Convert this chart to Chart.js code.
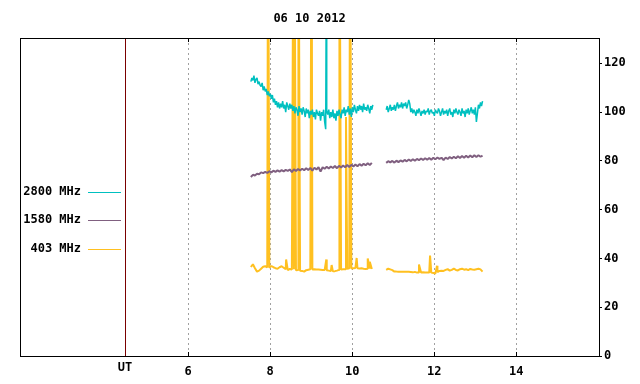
<!DOCTYPE html>
<html>
<head>
<meta charset="utf-8">
<script src="https://cdn.jsdelivr.net/npm/chart.js@4"></script>
<style>
html,body{margin:0;padding:0;background:#fff;}
#wrap{width:640px;height:384px;}
</style>
</head>
<body>
<div id="wrap"><canvas id="c" width="640" height="384"></canvas></div>
<script>
// ---- data ----
const title = '06 10 2012';
const seriesLabels = ['2800 MHz', '1580 MHz', '403 MHz'];
const xTicks = [6, 8, 10, 12, 14];
const yTicks = [0, 20, 40, 60, 80, 100, 120];
const utTime = 4.46;
const segment1Start = 7.53;    // UT hours
const segment2Start = 10.83;
const gapTime = 10.66;

// 2800 MHz, sampled every 0.025 h
const cyanStep = 0.025;
const cyan1 = [112.5,114,113,115,112,113.5,114,111.5,112.5,111,
  110.5,112,109,110.5,108.5,109.5,107,108.5,106.5,107.5,
  105.5,107,104,105.5,103,104.5,102,104,101.5,103.5,
  102,104.5,101.5,103,100,104,102.5,101,103.5,101.5,
  103,100.5,102.5,99.5,102,101,98.5,102.5,100,101.5,
  99,102,100.5,98,101.5,99.5,101,97.5,100.5,99,
  101,98,100,97,101,99.5,98.5,100.5,96.5,100,
  98.5,101,96,93,100.5,99,101,97.5,100,98,
  101,97.5,99.5,96.5,100.5,98.5,101,99,97.5,101,
  99.5,102,98.5,101,100,102.5,99,101.5,98,102,
  100,103,101,99.5,102.5,100.5,103,101,102.5,100,
  103.5,101,102,100.5,103,101.5,99.5,102.5,101,103];
const cyan2 = [101,102.5,100,101.5,103,100.5,102,101,103,100.5,
  102.5,104,101.5,103,102,104,101.5,103.5,102.5,104,
  101.5,103,105,103.5,100,101.5,99.5,101,100,98.5,
  101,99.5,101.5,100,98.5,100.5,99.5,101,99,100.5,
  100,101.5,99,100.5,101,99.5,100,98.5,101,100,
  99.5,101.5,100.5,98.5,100,101.5,99,100.5,99.5,101,
  98.5,100.5,101.5,99,100,98,101,99.5,101.5,100,
  99,101,100,98.5,101.5,99.5,100.5,98,101,99.5,
  101.5,99,100.5,102,99.5,101,99,102,96,99.5,
  103,101.5,104,102.5,104.5];
const cyanSpikeTimes = [9.366];
const cyanSpikeValues = [140];

// 1580 MHz and 403 MHz, sampled every 0.05 h
const slowStep = 0.05;
const purple1 = [73.4,74.3,74.0,74.7,74.5,75.3,75.0,75.5,75.1,75.8,
  75.3,76.0,75.5,76.1,75.6,76.2,75.7,76.3,75.9,76.5,
  75.4,76.6,75.9,76.7,76.1,76.8,76.2,77.0,76.3,77.1,
  76.0,77.2,76.5,77.4,75.6,77.4,76.8,77.6,76.9,77.7,
  77.1,77.9,77.0,78.0,77.3,78.1,77.4,78.3,77.5,78.4,
  77.7,78.5,77.8,78.7,78.0,78.8,78.2,79.0,78.3,79.2];
const purple2 = [79.2,79.9,79.4,80.0,79.3,80.1,79.5,80.2,79.7,80.4,
  79.8,80.6,80.0,80.7,80.1,80.8,80.3,81.0,80.4,81.1,
  80.5,81.2,80.5,81.3,80.7,81.4,80.8,81.3,80.3,81.4,
  80.8,81.6,81.0,81.7,81.1,81.9,81.2,82.0,81.3,82.1,
  81.4,82.2,81.5,82.3,81.6,82.3,81.7,82.2];

const orange1 = [36.5,37.6,36.0,34.6,35.0,35.8,36.6,36.8,36.4,36.2,
  36.9,36.4,36.0,35.8,36.4,36.8,36.2,35.6,35.2,35.7,
  35.5,35.6,35.2,35.3,35.0,34.9,34.6,35.2,35.4,35.6,
  35.5,35.6,35.5,35.5,35.4,35.3,35.3,35.2,35.0,34.8,
  34.7,34.8,35.0,35.3,35.5,35.6,35.6,35.8,36.0,35.9,
  36.0,36.1,36.0,35.9,36.0,35.8,35.7,35.8,35.9,35.7];
const orange2 = [35.3,35.8,35.5,35.2,34.6,34.6,34.5,34.5,34.6,34.5,
  34.5,34.5,34.4,34.3,34.5,34.2,34.2,34.2,34.3,34.2,
  34.2,34.2,34.2,34.0,33.8,34.4,34.9,35.0,34.9,35.3,
  35.6,35.0,35.3,35.8,35.3,35.1,35.6,35.8,35.4,35.6,
  35.2,35.7,35.5,35.4,35.6,35.8,35.5,34.6];
const orangeSpikeTimes = [7.95,8.39,8.57,8.59,8.69,9.01,9.37,9.50,9.69,9.85,9.95,10.11,10.38,10.43,11.63,11.90,12.07];
const orangeSpikeValues = [200,39.6,200,200,200,200,39.6,37.3,200,98,200,40.2,40.0,38.6,37.5,41.2,37.0];

const colors = ['#00c0c0', '#806080', '#ffc020'];
const lineWidths = [1.5, 2, 2];

// ---- build series ----
function buildSeries(seg1, seg2, step, spikeT, spikeV) {
  const pts = [];
  seg1.forEach((v, i) => pts.push({x: +(segment1Start + i * step).toFixed(3), y: v}));
  pts.push({x: gapTime, y: null});
  seg2.forEach((v, i) => pts.push({x: +(segment2Start + i * step).toFixed(3), y: v}));
  spikeT.forEach((t, i) => pts.push({x: t, y: spikeV[i]}));
  pts.sort((a, b) => a.x - b.x);
  return pts;
}

const FONT = 'bold 12px "DejaVu Sans Mono"';

const decor = {
  id: 'decor',
  beforeDatasetsDraw(chart) {
    const {ctx, chartArea: a, scales: {x}} = chart;
    ctx.save();
    ctx.strokeStyle = '#a0a0a0';
    ctx.lineWidth = 1;
    ctx.setLineDash([2, 3]);
    xTicks.forEach(v => {
      const px = Math.round(x.getPixelForValue(v)) + 0.5;
      ctx.beginPath(); ctx.moveTo(px, a.top); ctx.lineTo(px, a.bottom); ctx.stroke();
    });
    ctx.setLineDash([]);
    const ux = Math.round(x.getPixelForValue(utTime)) + 0.5;
    ctx.strokeStyle = '#7a0000';
    ctx.beginPath(); ctx.moveTo(ux, a.top); ctx.lineTo(ux, a.bottom); ctx.stroke();
    ctx.restore();
  },
  afterDraw(chart) {
    const {ctx, chartArea: a, scales: {x}} = chart;
    ctx.save();
    ctx.strokeStyle = '#000';
    ctx.lineWidth = 1;
    ctx.strokeRect(Math.round(a.left) + 0.5, Math.round(a.top) + 0.5,
                   Math.round(a.right - a.left), Math.round(a.bottom - a.top));
    xTicks.forEach(v => {
      const px = Math.round(x.getPixelForValue(v)) + 0.5;
      ctx.beginPath();
      ctx.moveTo(px, a.bottom); ctx.lineTo(px, a.bottom - 4);
      ctx.moveTo(px, a.top); ctx.lineTo(px, a.top + 4);
      ctx.stroke();
    });
    ctx.fillStyle = '#000';
    ctx.font = FONT;
    ctx.textAlign = 'center';
    ctx.textBaseline = 'middle';
    ctx.fillText(title, (a.left + a.right) / 2, 19);
    ctx.fillText('UT', x.getPixelForValue(utTime), 368);
    const rows = [191.5, 220, 248.5];
    chart.data.datasets.forEach((ds, i) => {
      ctx.textAlign = 'right';
      ctx.fillStyle = '#000';
      ctx.fillText(ds.label, 81, rows[i]);
      ctx.strokeStyle = ds.borderColor;
      ctx.lineWidth = 1;
      const ly = Math.round(rows[i]) + 0.5;
      ctx.beginPath(); ctx.moveTo(88, ly); ctx.lineTo(121, ly); ctx.stroke();
    });
    ctx.restore();
  }
};

new Chart(document.getElementById('c'), {
  type: 'line',
  data: {
    datasets: [
      {label: seriesLabels[0], data: buildSeries(cyan1, cyan2, cyanStep, cyanSpikeTimes, cyanSpikeValues), borderColor: colors[0], borderWidth: lineWidths[0]},
      {label: seriesLabels[1], data: buildSeries(purple1, purple2, slowStep, [], []), borderColor: colors[1], borderWidth: lineWidths[1]},
      {label: seriesLabels[2], data: buildSeries(orange1, orange2, slowStep, orangeSpikeTimes, orangeSpikeValues), borderColor: colors[2], borderWidth: lineWidths[2]}
    ].map(d => Object.assign(d, {pointRadius: 0, tension: 0, spanGaps: false, fill: false, borderJoinStyle: 'bevel'}))
  },
  options: {
    animation: false,
    responsive: false,
    devicePixelRatio: 1,
    layout: {padding: {left: 20, top: 38, right: 0, bottom: 0}},
    plugins: {legend: {display: false}, tooltip: {enabled: false}, title: {display: false}},
    scales: {
      x: {
        type: 'linear', min: 1.9, max: 16.02,
        grid: {display: false, drawTicks: false},
        border: {display: false},
        afterBuildTicks: s => { s.ticks = xTicks.map(v => ({value: v})); },
        afterFit: s => { s.height = 28; },
        ticks: {color: '#000', font: {family: 'DejaVu Sans Mono', size: 12, weight: 'bold'}, padding: 9, maxRotation: 0, autoSkip: false}
      },
      y: {
        position: 'right', min: 0, max: 130.4,
        grid: {drawOnChartArea: false, drawTicks: true, tickLength: 3, color: '#000'},
        border: {display: false},
        afterBuildTicks: s => { s.ticks = yTicks.map(v => ({value: v})); },
        afterFit: s => { s.width = 41; },
        ticks: {color: '#000', font: {family: 'DejaVu Sans Mono', size: 12, weight: 'bold'}, padding: 2}
      }
    }
  },
  plugins: [decor]
});
</script>
</body>
</html>
